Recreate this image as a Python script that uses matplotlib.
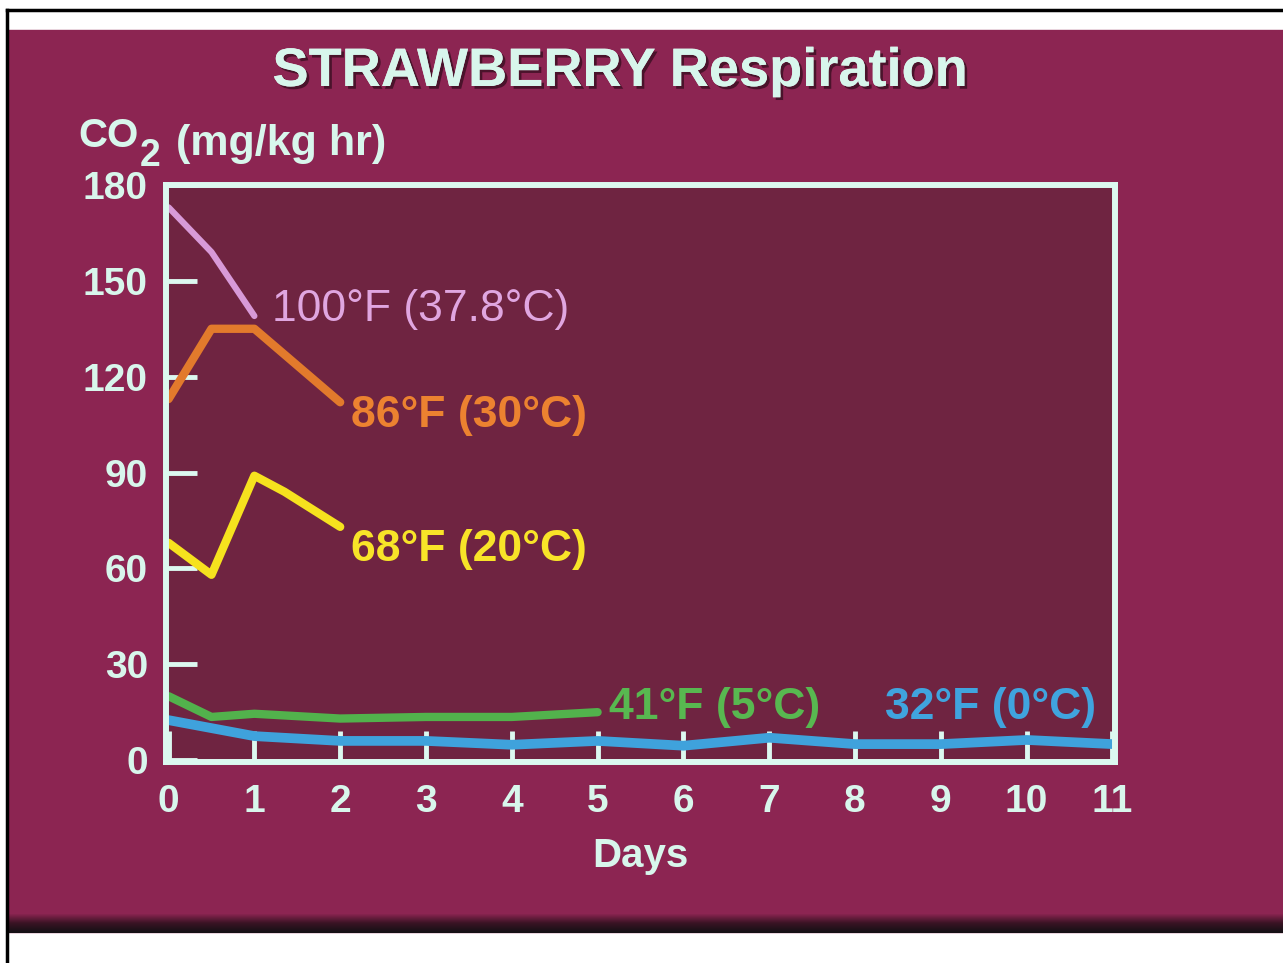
import matplotlib.pyplot as plt
import matplotlib.patheffects as pe
from matplotlib.patches import Rectangle
from matplotlib.lines import Line2D
import numpy as np

# data (days vs CO2 mg/kg hr)
days_100f = [0, 0.5, 1]
co2_100f = [173, 159, 139]

days_86f = [0, 0.5, 1, 2]
co2_86f = [113, 135, 135, 112]

days_68f = [0, 0.5, 1, 1.35, 2]
co2_68f = [68, 58, 89, 84, 73]

days_41f = [0, 0.5, 1, 2, 3, 4, 5]
co2_41f = [20, 13.5, 14.5, 13, 13.5, 13.5, 15]

days_32f = [0, 1, 2, 3, 4, 5, 6, 7, 8, 9, 10, 11]
co2_32f = [12.5, 7.5, 6, 6, 4.8, 6, 4.5, 7, 5, 5, 6.3, 5]

labels = ["100°F (37.8°C)", "86°F (30°C)", "68°F (20°C)", "41°F (5°C)", "32°F (0°C)"]

W, H = 1283, 963
plt.rcParams['font.family'] = ['Liberation Sans', 'DejaVu Sans']

fig = plt.figure(figsize=(W / 100, H / 100), dpi=100)
fig.patch.set_facecolor('white')

slide_col = '#8c2552'
inner_col = '#6f2441'
text_col = '#d8f6ec'
frame_col = '#dcf8f0'

# slide background, dark band at the bottom, and black border lines
fig.patches.append(Rectangle((8 / W, 1 - 932 / H), 1 - 8 / W, (932 - 30) / H,
                             transform=fig.transFigure, color=slide_col, zorder=0))
grad = np.linspace(0, 1, 20).reshape(-1, 1)
gax = fig.add_axes([8 / W, 1 - 933 / H, 1 - 8 / W, 20 / H], zorder=0.5)
gax.imshow(grad, aspect='auto', cmap=plt.matplotlib.colors.LinearSegmentedColormap.from_list(
    'b', [slide_col, '#3a1424', '#141014']), extent=[0, 1, 0, 1])
gax.axis('off')
fig.lines.append(Line2D([7 / W, 1], [1 - 10 / H, 1 - 10 / H], transform=fig.transFigure,
                        color='black', lw=2.5))
fig.lines.append(Line2D([7 / W, 7 / W], [0, 1 - 10 / H], transform=fig.transFigure,
                        color='black', lw=2.5))

ax = fig.add_axes([166 / W, 1 - 762 / H, (1115 - 166) / W, (762 - 185) / H], zorder=2)
ax.set_facecolor(inner_col)
for s in ax.spines.values():
    s.set_color(frame_col)
    s.set_linewidth(4.3)

ax.plot(days_100f, co2_100f, color='#d89ad8', lw=4.5, solid_capstyle='round', solid_joinstyle='round')
ax.plot(days_86f, co2_86f, color='#e27a2c', lw=6, solid_capstyle='round', solid_joinstyle='round')
ax.plot(days_68f, co2_68f, color='#f6e21e', lw=6, solid_capstyle='round', solid_joinstyle='round')
ax.plot(days_41f, co2_41f, color='#52b24c', lw=6, solid_capstyle='round', solid_joinstyle='round')
ax.plot(days_32f, co2_32f, color='#3fa2dc', lw=7, solid_capstyle='round', solid_joinstyle='round')

ax.set_xlim(-0.03, 11.03)
ax.set_ylim(-0.6, 180)
ax.set_xticks(range(0, 12))
ax.set_yticks(range(0, 181, 30))
ax.tick_params(direction='in', length=22, width=3.5, color=frame_col,
               labelcolor=text_col, labelsize=28)
ax.tick_params(axis='x', pad=16)
ax.tick_params(axis='y', pad=13)
for t in ax.get_xticklabels() + ax.get_yticklabels():
    t.set_fontweight('bold')

lab_kw = dict(fontsize=32, va='center', ha='left')
ax.text(1.2, 141, labels[0], color='#e0a6e0', **lab_kw)
ax.text(2.13, 108, labels[1], color='#ec8230', fontweight='bold', **lab_kw)
ax.text(2.13, 66, labels[2], color='#f8e428', fontweight='bold', **lab_kw)
ax.text(5.13, 16.5, labels[3], color='#58b850', fontweight='bold', **lab_kw)
ax.text(8.35, 16.5, labels[4], color='#40a4de', fontweight='bold', **lab_kw)

ax.set_xlabel('Days', color=text_col, fontsize=29, fontweight='bold', labelpad=12)

shadow = [pe.withSimplePatchShadow(offset=(2, -2), shadow_rgbFace='#3a0f22', alpha=0.8), pe.Normal()]
fig.text(620 / W, 1 - 72 / H, 'STRAWBERRY Respiration', color=text_col, fontsize=39,
         fontweight='bold', ha='center', va='center', path_effects=shadow)

co = fig.text(78 / W, 1 - 147 / H, 'CO', color=text_col, fontsize=29, fontweight='bold',
              ha='left', va='baseline')
two = ax.annotate('2', xy=(1, 0), xycoords=co, xytext=(1, -8), textcoords='offset points',
                  color=text_col, fontsize=27, fontweight='bold', va='baseline', ha='left')
ax.annotate('(mg/kg hr)', xy=(1, 0), xycoords=co, xytext=(27, 0), textcoords='offset points',
            color=text_col, fontsize=31, fontweight='bold', va='baseline', ha='left')

fig.savefig('out.png', dpi=100, facecolor=fig.get_facecolor())
